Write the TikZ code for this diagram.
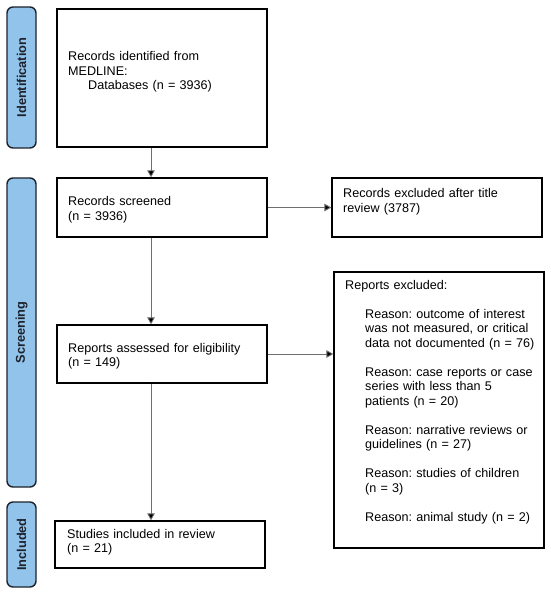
\documentclass[tikz,border=0pt]{standalone}
\usepackage{fontspec}
\setmainfont{Liberation Sans}
\usetikzlibrary{arrows.meta}
\frenchspacing
\definecolor{labfill}{RGB}{146,195,234}
\definecolor{labdraw}{RGB}{30,34,44}
\definecolor{arrgray}{RGB}{110,110,110}
\tikzset{
  box/.style={draw=black, line width=1.3pt, fill=white, inner sep=0pt},
  lab/.style={draw=labdraw, line width=1.4pt, fill=labfill, rounded corners=6pt,
    inner sep=0pt, font=\fontsize{12.8}{14.5}\selectfont\bfseries, text=labdraw},
  txt/.style={anchor=base west, inner sep=0pt, align=left, text width=200pt,
    font=\fontsize{12.6}{14.5}\selectfont\frenchspacing},
  arr/.style={draw=arrgray, line width=0.9pt, -{Triangle[length=7pt,width=7.5pt,fill=black]}},
}
\begin{document}
\begin{tikzpicture}[x=1pt,y=-1pt]
\useasboundingbox (0,0) rectangle (550,593);
% phase labels
\node[lab, rotate=90, minimum width=141, minimum height=29] (lid) at (21.5,77.5) {Identification};
\node[lab, rotate=90, minimum width=309, minimum height=29] (lscr) at (21.5,332.5) {Screening};
\node[lab, rotate=90, minimum width=85, minimum height=29] (linc) at (21.5,544.5) {Included};
% boxes
\node[box, minimum width=210, minimum height=138] (id) at (162,78) {};
\node[box, minimum width=210, minimum height=59] (scr) at (162,207.5) {};
\node[box, minimum width=210, minimum height=58] (elig) at (162,354) {};
\node[box, minimum width=210, minimum height=47] (inc) at (160,544.5) {};
\node[box, minimum width=210, minimum height=59] (exc1) at (437,207.5) {};
\node[box, minimum width=210, minimum height=276] (exc2) at (439,410) {};
% texts
\node[txt] (idtxt) at (68,61) {Records identified from\\MEDLINE:\\\hspace*{20pt}Databases (n = 3936)};
\node[txt] (scrtxt) at (68,206) {Records screened\\(n = 3936)};
\node[txt] (eligtxt) at (68,352) {Reports assessed for eligibility\\(n = 149)};
\node[txt] (inctxt) at (67,538) {Studies included in review\\(n = 21)};
\node[txt] (exc1txt) at (343,198) {Records excluded after title\\review (3787)};
\node[txt] (exc2head) at (345,289) {Reports excluded:};
\node[txt] (exc2txt) at (365,318) {Reason: outcome of interest\\was not measured, or critical\\data not documented (n = 76)\\[14.5pt]Reason: case reports or case\\series with less than 5\\patients (n = 20)\\[14.5pt]Reason: narrative reviews or\\guidelines (n = 27)\\[14.5pt]Reason: studies of children\\(n = 3)\\[14.5pt]Reason: animal study (n = 2)};
% connectors
\coordinate (ax) at (151,0);
\draw[arr] (id.south -| ax) -- (scr.north -| ax);
\draw[arr] (scr.south -| ax) -- (elig.north -| ax);
\draw[arr] (elig.south -| ax) -- (inc.north -| ax);
\draw[arr] (scr.east) -- (scr.east -| exc1.west);
\draw[arr] (elig.east) -- (elig.east -| exc2.west);
\end{tikzpicture}
\end{document}
